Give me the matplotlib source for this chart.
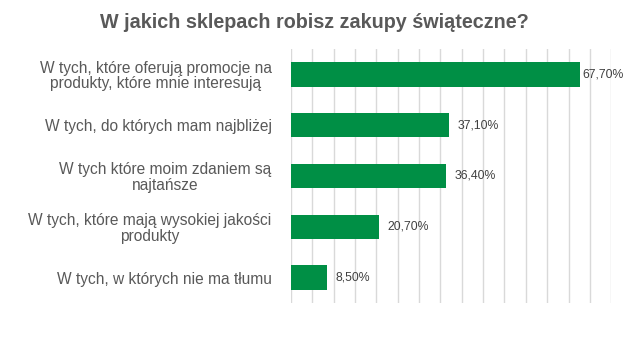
import matplotlib.pyplot as plt
import numpy as np

plt.rcParams['font.family'] = ['Liberation Sans', 'DejaVu Sans']

# dane
categories = ['W tych, które oferują promocje na\nprodukty, które mnie interesują',
              'W tych, do których mam najbliżej',
              'W tych które moim zdaniem są\nnajtańsze',
              'W tych, które mają wysokiej jakości\nprodukty',
              'W tych, w których nie ma tłumu']
values = [67.7, 37.1, 36.4, 20.7, 8.5]
value_labels = ['67,70%', '37,10%', '36,40%', '20,70%', '8,50%']

green = '#008F45'
txt = '#595959'

fig = plt.figure(figsize=(6.29, 3.37), dpi=100)
ax = fig.add_axes([0.4626, 0.1009, 0.5092, 0.7537])

y = np.arange(len(categories))
ax.barh(y, values, height=0.48, color=green, zorder=3)
ax.set_ylim(len(categories) - 0.5, -0.5)
ax.set_xlim(0, 75)
ax.set_xticks(np.arange(0, 76, 5))
ax.grid(axis='x', color='#d9d9d9', linewidth=1, zorder=0)
ax.tick_params(axis='x', length=0, labelbottom=False)
ax.tick_params(axis='y', length=0, pad=14)
ax.set_yticks(y)
ax.set_yticklabels(categories, fontsize=11.2, color=txt, ha='right',
                   multialignment='center', linespacing=1.05)
for s in ax.spines.values():
    s.set_visible(False)

# etykiety wartosci
for i, (v, lab) in enumerate(zip(values, value_labels)):
    off = 2 if i == 0 else 8
    ax.annotate(lab, (v, i), xytext=(off, 0), textcoords='offset pixels',
                va='center', ha='left', fontsize=8.8, color='#404040')

fig.text(0.5, 0.933, 'W jakich sklepach robisz zakupy świąteczne?', ha='center', va='center',
         fontsize=14.2, fontweight='bold', color=txt)

fig.savefig('out.png', dpi=100)
